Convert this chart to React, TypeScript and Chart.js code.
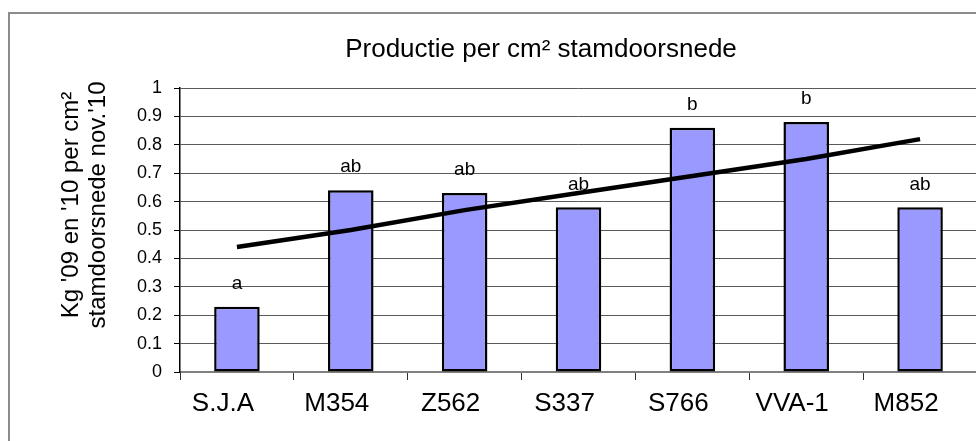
import React, { useEffect, useRef } from "react";
import { Chart, registerables } from "chart.js";

Chart.register(...registerables);

const categories = ["S.J.A", "M354", "Z562", "S337", "S766", "VVA-1", "M852"];
const productionValues = [0.23, 0.64, 0.63, 0.58, 0.86, 0.88, 0.58];
const trendValues = [0.44, 0.5, 0.57, 0.63, 0.69, 0.75, 0.82];
const significanceLetters = ["a", "ab", "ab", "ab", "b", "b", "ab"];
const titleText = "Productie per cm\u00B2 stamdoorsnede";
const yTitleLines = ["Kg '09 en '10 per cm\u00B2", "stamdoorsnede nov.'10"];

const FONT = "'Liberation Sans', Arial, sans-serif";

const textPlugin = {
  id: "textPlugin",
  afterDatasetsDraw(chart: any) {
    const ctx = chart.ctx;
    const meta = chart.getDatasetMeta(1);
    ctx.save();
    ctx.fillStyle = "#000";
    ctx.font = `19px ${FONT}`;
    ctx.textAlign = "center";
    ctx.textBaseline = "middle";
    meta.data.forEach((el: any, i: number) => {
      ctx.fillText(significanceLetters[i], el.x, el.y - 23);
    });
    ctx.restore();
  },
  afterDraw(chart: any) {
    const ctx = chart.ctx;
    ctx.save();
    ctx.fillStyle = "#000";
    ctx.font = `26px ${FONT}`;
    ctx.textAlign = "center";
    ctx.textBaseline = "middle";
    ctx.fillText(titleText, 541, 50);
    ctx.translate(0, 205);
    ctx.rotate(-Math.PI / 2);
    ctx.font = `24px ${FONT}`;
    ctx.fillText(yTitleLines[0], 0, 71);
    ctx.fillText(yTitleLines[1], 0, 98);
    ctx.restore();
  },
};

export default function App() {
  const ref = useRef<HTMLCanvasElement>(null);
  useEffect(() => {
    if (!ref.current) return;
    const chart = new Chart(ref.current, {
      type: "bar",
      data: {
        labels: categories,
        datasets: [
          {
            type: "line",
            data: trendValues,
            borderColor: "#000",
            borderWidth: 4.5,
            pointRadius: 0,
            fill: false,
            order: 0,
          } as any,
          {
            type: "bar",
            data: productionValues,
            backgroundColor: "#9999FF",
            borderColor: "#000",
            borderWidth: 2.5,
            borderSkipped: false,
            categoryPercentage: 1,
            barPercentage: 0.4,
            order: 1,
          },
        ],
      },
      options: {
        animation: false,
        responsive: false,
        devicePixelRatio: 1,
        layout: { padding: { top: 88, left: 0, right: 13, bottom: 0 } },
        plugins: {
          legend: { display: false },
          title: { display: false },
          tooltip: { enabled: false },
        },
        scales: {
          x: {
            afterFit: (s: any) => {
              s.height = 69;
            },
            grid: {
              drawOnChartArea: false,
              drawTicks: true,
              tickLength: 8,
              offset: true,
              color: "#555",
              tickColor: "#333",
            },
            border: { color: "#808080", width: 2 },
            ticks: {
              color: "#000",
              font: { family: FONT, size: 26 },
              padding: 8,
              labelOffset: -14,
              maxRotation: 0,
              autoSkip: false,
            },
          },
          y: {
            min: 0,
            max: 1,
            afterFit: (s: any) => {
              s.width = 180;
            },
            grid: {
              color: "#5a5a5a",
              lineWidth: 1,
              tickLength: 6,
              tickColor: "#000",
            },
            border: { color: "#000", width: 1.5 },
            ticks: {
              stepSize: 0.1,
              color: "#000",
              font: { family: FONT, size: 18 },
              padding: 12,
              callback: (v: any) => String(Math.round(Number(v) * 10) / 10),
            },
          },
        },
      },
      plugins: [textPlugin],
    });
    return () => chart.destroy();
  }, []);

  return (
    <div
      style={{
        position: "fixed",
        left: 0,
        top: 0,
        width: 976,
        height: 441,
        overflow: "hidden",
        background: "#fff",
      }}
    >
      <div
        style={{
          position: "absolute",
          left: 8,
          top: 12,
          width: 1100,
          height: 600,
          border: "2px solid #8c8c8c",
          boxSizing: "border-box",
        }}
      />
      <canvas
        ref={ref}
        width={990}
        height={441}
        style={{ position: "absolute", left: 0, top: 0, width: 990, height: 441 }}
      />
    </div>
  );
}
